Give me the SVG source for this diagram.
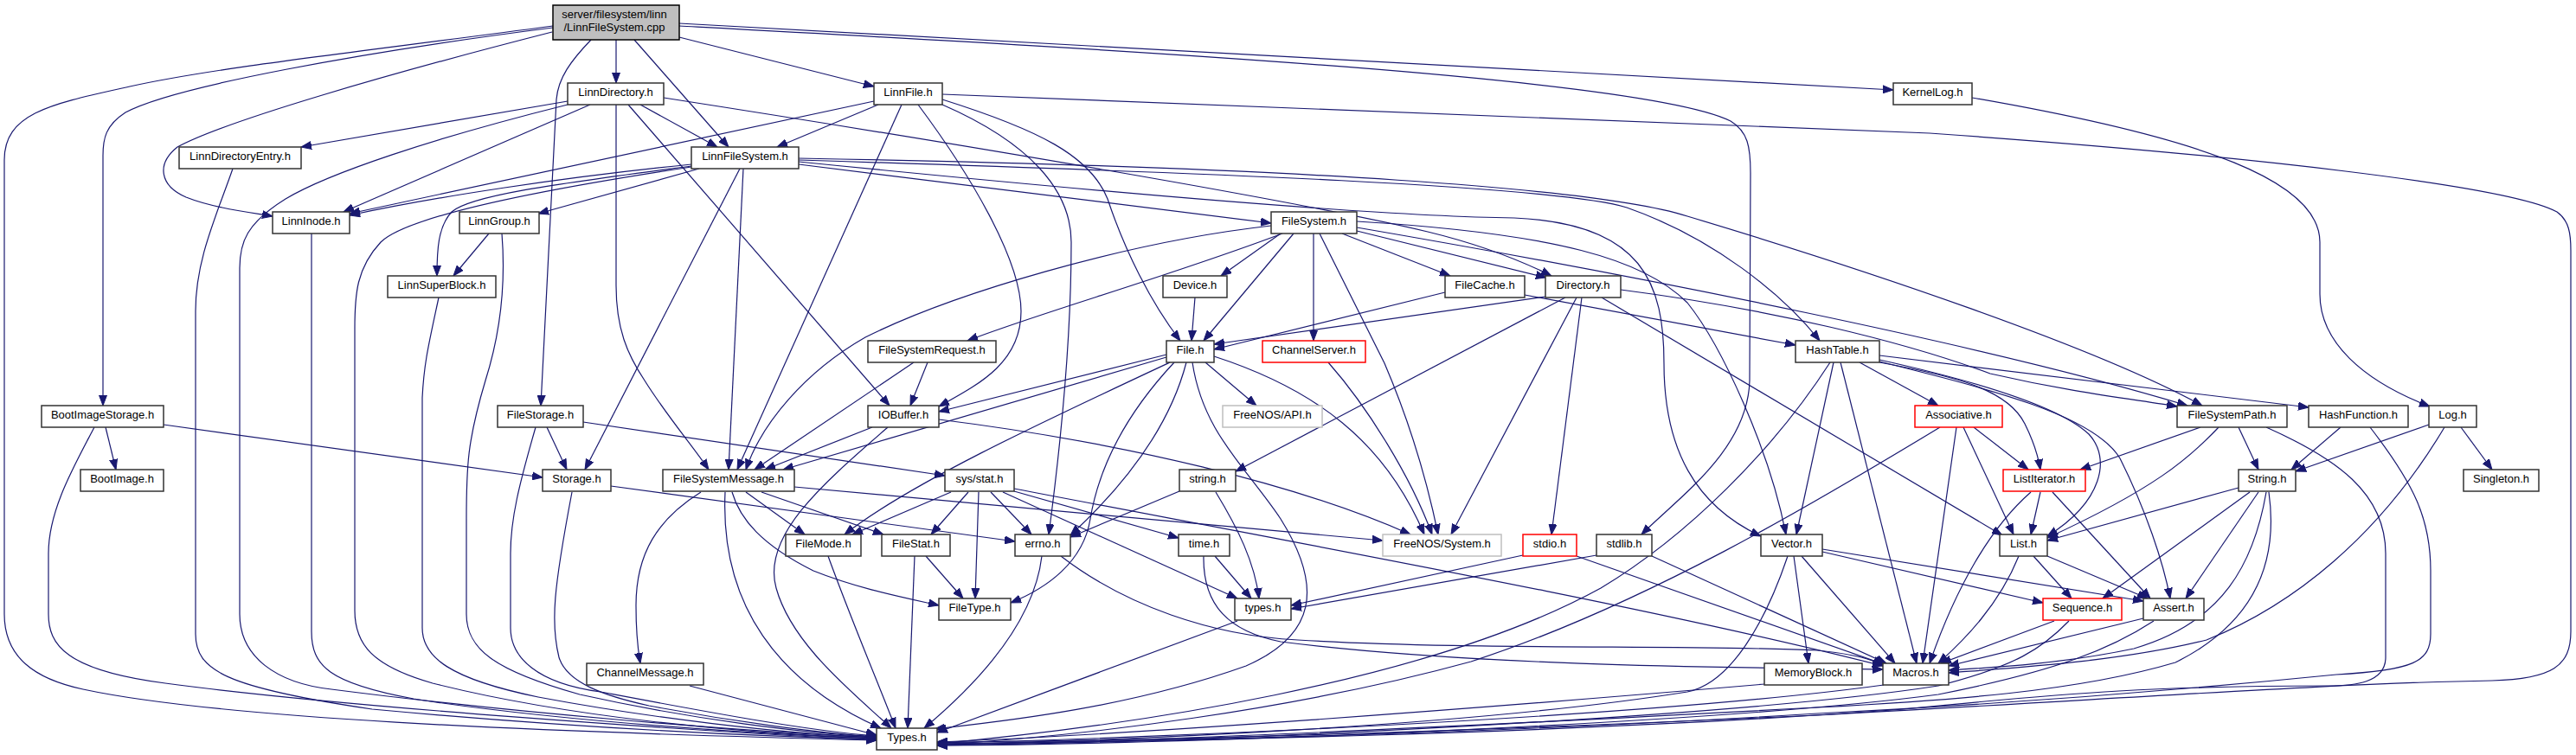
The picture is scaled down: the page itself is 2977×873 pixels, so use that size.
<svg xmlns="http://www.w3.org/2000/svg" width="2977" height="873" viewBox="0 0 2977 873">
<style>
.node rect{fill:#fff;stroke:#333;stroke-width:1.5}
.node.root rect{fill:#bfbfbf;stroke:#000}
.node.red rect{stroke:#ff0000}
.node.gray rect{stroke:#bfbfbf}
.node text{font-family:"Liberation Sans",Arial,sans-serif;font-size:13px;text-anchor:middle;fill:#000}
#edges path{fill:none;stroke:#191970;stroke-width:1.2;marker-end:url(#arr)}
</style>
<defs>
<marker id="arr" markerUnits="userSpaceOnUse" markerWidth="14" markerHeight="10" refX="12" refY="5" orient="auto">
<path d="M0,0.5 L12,5 L0,9.5 z" fill="#191970" stroke="#191970" stroke-width="1"/>
</marker>
</defs>
<rect x="0" y="0" width="2977" height="873" fill="#fff"/>
<g id="edges">
<path d="M712,46 L712,96"/>
<path d="M733,46 L842,170"/>
<path d="M785,43 L1010,100"/>
<path d="M785,27 L2188,104"/>
<path d="M785,30 C1300,58 1900,90 2000,140 C2020,152 2023,170 2023,200 L2022,440 C2020,520 1940,575 1897,618"/>
<path d="M639,30 C400,62 250,78 150,100 C60,120 5,130 5,185 L5,710 C5,760 40,785 96,797 C250,830 600,846 1013,856"/>
<path d="M639,32 C420,60 200,100 145,130 C122,145 119,160 119,180 L119,469"/>
<path d="M638,37 C450,85 260,140 205,170 C180,190 185,215 215,228 C245,240 285,245 315,250"/>
<path d="M683,46 C660,70 645,90 643,115 L625,469"/>
<path d="M656,117 L348,170"/>
<path d="M656,121 C500,160 380,200 330,230 C285,258 277,280 277,310 L277,710 C277,760 320,790 383,797 C600,825 850,845 1013,853"/>
<path d="M682,121 L397,245"/>
<path d="M712,121 L712,330 C712,380 725,410 745,440 C770,480 800,515 819,543"/>
<path d="M726,121 L1028,469"/>
<path d="M740,121 L829,170"/>
<path d="M767,113 C1100,165 1500,232 1650,268 C1720,285 1765,305 1793,319"/>
<path d="M1015,121 L898,170"/>
<path d="M1010,117 L404,247"/>
<path d="M1042,121 L852,543"/>
<path d="M1061,121 C1120,200 1180,300 1180,360 C1180,420 1130,445 1085,470"/>
<path d="M1089,121 C1190,165 1238,220 1238,280 C1238,400 1225,520 1212,618"/>
<path d="M1089,115 C1200,150 1260,180 1280,230 C1300,290 1330,350 1364,394"/>
<path d="M1089,109 L2230,154 C2600,180 2900,215 2955,245 C2969,255 2971,270 2971,290 L2971,730 C2971,770 2950,785 2880,787 C2700,790 2500,805 2100,827 C1600,850 1300,857 1083,858"/>
<path d="M2279,113 C2550,160 2681,210 2681,280 L2681,340 C2681,395 2730,440 2808,470"/>
<path d="M799,190 C650,205 500,228 404,249"/>
<path d="M808,195 L622,247"/>
<path d="M799,192 C650,212 545,225 522,245 C506,262 505,290 505,319"/>
<path d="M799,193 C620,220 470,250 440,280 C412,310 410,340 410,380 L410,706 C410,745 430,770 500,790 C650,828 850,848 1013,854"/>
<path d="M855,195 L676,543"/>
<path d="M859,195 L842,543"/>
<path d="M923,190 L1469,258"/>
<path d="M923,185 C1400,200 1800,215 1880,240 C1980,275 2060,340 2103,394"/>
<path d="M923,183 C1500,193 1850,218 1950,250 C2150,310 2420,400 2545,469"/>
<path d="M923,187 C1300,225 1600,250 1750,252 C1900,258 1923,330 1923,420 C1923,520 1960,585 2035,620"/>
<path d="M1480,270 L1411,319"/>
<path d="M1495,270 L1391,394"/>
<path d="M1482,270 C1350,320 1200,362 1118,394"/>
<path d="M1469,261 C1300,280 1100,340 1000,390 C930,430 880,490 862,543"/>
<path d="M1518,270 L1518,394"/>
<path d="M1525,270 L1600,420 C1630,490 1650,560 1662,618"/>
<path d="M1551,270 L1676,319"/>
<path d="M1568,267 L1787,321"/>
<path d="M1568,263 C1900,320 2300,400 2528,469"/>
<path d="M1568,256 C1800,270 1900,300 1950,350 C1990,400 2045,520 2064,618"/>
<path d="M1348,410 L1085,476"/>
<path d="M1348,413 L905,543"/>
<path d="M1352,419 C1200,490 1050,560 976,618"/>
<path d="M1357,419 C1300,480 1270,540 1260,600 C1252,650 1210,680 1168,697"/>
<path d="M1371,419 C1350,500 1290,570 1237,619"/>
<path d="M1393,419 L1452,469"/>
<path d="M1403,412 C1520,450 1600,510 1646,618"/>
<path d="M1378,419 C1390,500 1440,540 1480,600 C1530,680 1520,735 1440,770 C1300,820 1150,835 1080,843"/>
<path d="M1670,338 L1403,404"/>
<path d="M1762,341 L2075,399"/>
<path d="M1786,343 L1403,398"/>
<path d="M1809,344 L1428,545"/>
<path d="M1822,344 L1677,618"/>
<path d="M1828,344 L1793,618"/>
<path d="M1851,344 L2314,619"/>
<path d="M1873,335 C2050,358 2200,395 2300,432 C2400,455 2470,462 2516,470"/>
<path d="M1381,344 L1377,394"/>
<path d="M1535,419 C1580,470 1630,550 1655,618"/>
<path d="M1072,419 L1052,469"/>
<path d="M1056,419 L872,543"/>
<path d="M1008,494 L884,543"/>
<path d="M1026,494 C950,560 880,620 897,680 C915,745 985,800 1030,842"/>
<path d="M1085,485 C1300,512 1500,560 1630,618"/>
<path d="M862,569 L930,618"/>
<path d="M880,569 L1021,618"/>
<path d="M846,569 C855,600 880,630 940,660 C990,680 1040,690 1085,700"/>
<path d="M838,569 C832,700 900,790 1018,842"/>
<path d="M810,569 C760,600 735,640 735,700 C735,730 737,750 740,767"/>
<path d="M918,563 C1200,590 1450,610 1598,625"/>
<path d="M1099,569 L985,618"/>
<path d="M1119,569 L1076,618"/>
<path d="M1131,569 L1127,692"/>
<path d="M1145,569 L1192,618"/>
<path d="M1172,568 L1362,622"/>
<path d="M1159,569 L1430,692"/>
<path d="M1172,565 C1500,628 1900,700 2176,770"/>
<path d="M706,562 L1173,626"/>
<path d="M661,569 C640,680 636,720 646,760 C655,790 700,805 750,816 C850,835 950,848 1013,852"/>
<path d="M632,494 L655,543"/>
<path d="M674,488 L1092,550"/>
<path d="M619,494 C600,560 590,600 590,640 L590,726 C590,760 620,790 694,800 C800,820 930,845 1013,851"/>
<path d="M122,494 L134,543"/>
<path d="M189,491 L627,552"/>
<path d="M109,494 C85,540 56,590 56,640 L56,710 C56,745 75,775 191,790 C400,818 800,845 1013,856"/>
<path d="M269,195 C250,250 226,300 226,360 L226,733 C226,775 260,795 430,820 C700,845 900,852 1013,855"/>
<path d="M360,270 L360,730 C360,770 380,790 478,808 C650,835 900,850 1013,854"/>
<path d="M507,344 C495,400 490,420 488,460 L488,726 C488,760 520,785 622,806 C750,830 900,848 1013,853"/>
<path d="M565,270 L524,319"/>
<path d="M580,270 C584,320 580,380 561,440 C540,510 539,540 539,600 L539,710 C539,750 570,775 670,803 C800,832 930,848 1013,852"/>
<path d="M797,793 L1013,850"/>
<path d="M957,643 C985,720 1015,790 1035,842"/>
<path d="M1057,643 L1049,842"/>
<path d="M1070,643 L1113,692"/>
<path d="M1204,643 C1195,720 1130,790 1068,842"/>
<path d="M1226,643 C1300,700 1400,735 1500,740 C1700,752 1950,745 2100,752 C2140,756 2165,762 2176,770"/>
<path d="M1363,568 L1237,621"/>
<path d="M1405,569 C1430,610 1450,650 1455,692"/>
<path d="M1404,643 L1446,692"/>
<path d="M1391,643 C1390,700 1420,730 1480,742 C1700,770 2000,772 2176,774"/>
<path d="M1430,718 L1083,847"/>
<path d="M1760,642 L1492,700"/>
<path d="M1822,643 L2177,768"/>
<path d="M1845,642 L1492,704"/>
<path d="M1909,643 L2180,767"/>
<path d="M2149,419 L2240,469"/>
<path d="M2119,419 L2076,618"/>
<path d="M2127,419 L2215,767"/>
<path d="M2115,419 C2050,520 1950,620 1850,680 C1650,790 1300,840 1083,860"/>
<path d="M2172,419 C2260,435 2320,450 2340,490 C2350,510 2355,525 2358,543"/>
<path d="M2172,416 C2280,440 2380,470 2414,502 C2440,530 2430,580 2366,620"/>
<path d="M2172,418 C2300,450 2420,480 2450,530 C2480,590 2500,650 2508,692"/>
<path d="M2172,411 L2668,471"/>
<path d="M2281,494 L2344,543"/>
<path d="M2269,494 L2327,618"/>
<path d="M2261,494 L2222,767"/>
<path d="M2242,494 C2100,580 1900,700 1700,765 C1500,820 1250,852 1083,861"/>
<path d="M2358,569 L2347,618"/>
<path d="M2372,569 L2485,692"/>
<path d="M2347,569 C2300,610 2260,680 2230,767"/>
<path d="M2350,643 L2394,692"/>
<path d="M2366,643 L2482,692"/>
<path d="M2333,643 C2310,700 2270,740 2240,767"/>
<path d="M2106,638 L2361,697"/>
<path d="M2106,635 L2477,695"/>
<path d="M2073,643 L2090,767"/>
<path d="M2082,643 L2190,767"/>
<path d="M2066,643 C2040,720 2000,790 1950,800 C1700,840 1300,856 1083,861"/>
<path d="M2374,718 L2243,767"/>
<path d="M2391,718 C2360,750 2330,770 2240,793 C2000,830 1400,858 1083,862"/>
<path d="M2477,715 L2252,770"/>
<path d="M2489,718 C2440,750 2380,775 2240,803 C2000,835 1400,860 1083,862"/>
<path d="M2040,791 C1700,820 1300,850 1083,858"/>
<path d="M2177,792 C1900,830 1300,855 1083,859"/>
<path d="M2543,494 L2404,543"/>
<path d="M2564,494 C2530,530 2490,565 2366,622"/>
<path d="M2587,494 L2610,543"/>
<path d="M2619,494 C2700,530 2757,570 2757,640 L2757,760 C2757,790 2720,793 2690,793 C2500,793 2400,800 2200,820 C1800,850 1300,858 1083,860"/>
<path d="M2705,494 L2648,543"/>
<path d="M2739,494 C2790,560 2809,600 2809,660 L2809,733 C2809,765 2790,775 2700,780 C2500,800 2300,815 2100,825 C1700,850 1300,858 1083,860"/>
<path d="M2844,494 L2880,543"/>
<path d="M2807,491 L2653,545"/>
<path d="M2825,494 C2750,620 2650,700 2550,740 C2450,765 2330,772 2252,778"/>
<path d="M2587,564 L2366,625"/>
<path d="M2600,569 L2430,692"/>
<path d="M2610,569 L2526,692"/>
<path d="M2619,569 C2605,650 2570,720 2466,750 C2380,768 2300,772 2252,775"/>
<path d="M2622,569 C2632,640 2615,716 2514,766 C2400,800 2250,810 2100,818 C1600,845 1300,858 1083,861"/>
</g>
<g id="n_root" class="node root"><rect x="639" y="6" width="146" height="40"/><text x="710" y="21">server/filesystem/linn</text><text x="710" y="36">/LinnFileSystem.cpp</text></g>
<g id="n_LinnDirectory" class="node"><rect x="656" y="96" width="111" height="25"/><text x="711.5" y="111">LinnDirectory.h</text></g>
<g id="n_LinnFile" class="node"><rect x="1010" y="96" width="79" height="25"/><text x="1049.5" y="111">LinnFile.h</text></g>
<g id="n_KernelLog" class="node"><rect x="2188" y="96" width="91" height="25"/><text x="2233.5" y="111">KernelLog.h</text></g>
<g id="n_LinnDirectoryEntry" class="node"><rect x="207" y="170" width="141" height="25"/><text x="277.5" y="185">LinnDirectoryEntry.h</text></g>
<g id="n_LinnFileSystem" class="node"><rect x="799" y="170" width="124" height="25"/><text x="861" y="185">LinnFileSystem.h</text></g>
<g id="n_LinnInode" class="node"><rect x="315" y="245" width="89" height="25"/><text x="359.5" y="260">LinnInode.h</text></g>
<g id="n_LinnGroup" class="node"><rect x="531" y="245" width="92" height="25"/><text x="577" y="260">LinnGroup.h</text></g>
<g id="n_FileSystem" class="node"><rect x="1469" y="245" width="99" height="25"/><text x="1518.5" y="260">FileSystem.h</text></g>
<g id="n_LinnSuperBlock" class="node"><rect x="448" y="319" width="125" height="25"/><text x="510.5" y="334">LinnSuperBlock.h</text></g>
<g id="n_Device" class="node"><rect x="1344" y="319" width="74" height="25"/><text x="1381" y="334">Device.h</text></g>
<g id="n_FileCache" class="node"><rect x="1670" y="319" width="92" height="25"/><text x="1716" y="334">FileCache.h</text></g>
<g id="n_Directory" class="node"><rect x="1786" y="319" width="87" height="25"/><text x="1829.5" y="334">Directory.h</text></g>
<g id="n_FileSystemRequest" class="node"><rect x="1003" y="394" width="148" height="25"/><text x="1077" y="409">FileSystemRequest.h</text></g>
<g id="n_File" class="node"><rect x="1348" y="394" width="55" height="25"/><text x="1375.5" y="409">File.h</text></g>
<g id="n_ChannelServer" class="node red"><rect x="1459" y="394" width="119" height="25"/><text x="1518.5" y="409">ChannelServer.h</text></g>
<g id="n_HashTable" class="node"><rect x="2075" y="394" width="97" height="25"/><text x="2123.5" y="409">HashTable.h</text></g>
<g id="n_BootImageStorage" class="node"><rect x="48" y="469" width="141" height="25"/><text x="118.5" y="484">BootImageStorage.h</text></g>
<g id="n_FileStorage" class="node"><rect x="575" y="469" width="99" height="25"/><text x="624.5" y="484">FileStorage.h</text></g>
<g id="n_IOBuffer" class="node"><rect x="1003" y="469" width="82" height="25"/><text x="1044" y="484">IOBuffer.h</text></g>
<g id="n_FreeNOS_API" class="node gray"><rect x="1413" y="469" width="115" height="25"/><text x="1470.5" y="484">FreeNOS/API.h</text></g>
<g id="n_Associative" class="node red"><rect x="2213" y="469" width="101" height="25"/><text x="2263.5" y="484">Associative.h</text></g>
<g id="n_FileSystemPath" class="node"><rect x="2516" y="469" width="127" height="25"/><text x="2579.5" y="484">FileSystemPath.h</text></g>
<g id="n_HashFunction" class="node"><rect x="2668" y="469" width="115" height="25"/><text x="2725.5" y="484">HashFunction.h</text></g>
<g id="n_Log" class="node"><rect x="2807" y="469" width="55" height="25"/><text x="2834.5" y="484">Log.h</text></g>
<g id="n_BootImage" class="node"><rect x="93" y="543" width="96" height="25"/><text x="141" y="558">BootImage.h</text></g>
<g id="n_Storage" class="node"><rect x="627" y="543" width="79" height="25"/><text x="666.5" y="558">Storage.h</text></g>
<g id="n_FileSystemMessage" class="node"><rect x="766" y="543" width="152" height="25"/><text x="842" y="558">FileSystemMessage.h</text></g>
<g id="n_sys_stat" class="node"><rect x="1092" y="543" width="80" height="25"/><text x="1132" y="558">sys/stat.h</text></g>
<g id="n_string" class="node"><rect x="1363" y="543" width="65" height="25"/><text x="1395.5" y="558">string.h</text></g>
<g id="n_ListIterator" class="node red"><rect x="2315" y="543" width="95" height="25"/><text x="2362.5" y="558">ListIterator.h</text></g>
<g id="n_String" class="node"><rect x="2587" y="543" width="66" height="25"/><text x="2620" y="558">String.h</text></g>
<g id="n_Singleton" class="node"><rect x="2847" y="543" width="87" height="25"/><text x="2890.5" y="558">Singleton.h</text></g>
<g id="n_FileMode" class="node"><rect x="908" y="618" width="87" height="25"/><text x="951.5" y="633">FileMode.h</text></g>
<g id="n_FileStat" class="node"><rect x="1019" y="618" width="79" height="25"/><text x="1058.5" y="633">FileStat.h</text></g>
<g id="n_errno" class="node"><rect x="1173" y="618" width="64" height="25"/><text x="1205" y="633">errno.h</text></g>
<g id="n_time" class="node"><rect x="1362" y="618" width="59" height="25"/><text x="1391.5" y="633">time.h</text></g>
<g id="n_FreeNOS_System" class="node gray"><rect x="1598" y="618" width="137" height="25"/><text x="1666.5" y="633">FreeNOS/System.h</text></g>
<g id="n_stdio" class="node red"><rect x="1760" y="618" width="62" height="25"/><text x="1791" y="633">stdio.h</text></g>
<g id="n_stdlib" class="node"><rect x="1845" y="618" width="64" height="25"/><text x="1877" y="633">stdlib.h</text></g>
<g id="n_Vector" class="node"><rect x="2035" y="618" width="71" height="25"/><text x="2070.5" y="633">Vector.h</text></g>
<g id="n_List" class="node"><rect x="2311" y="618" width="55" height="25"/><text x="2338.5" y="633">List.h</text></g>
<g id="n_FileType" class="node"><rect x="1085" y="692" width="83" height="25"/><text x="1126.5" y="707">FileType.h</text></g>
<g id="n_types" class="node"><rect x="1427" y="692" width="65" height="25"/><text x="1459.5" y="707">types.h</text></g>
<g id="n_Sequence" class="node red"><rect x="2361" y="692" width="91" height="25"/><text x="2406.5" y="707">Sequence.h</text></g>
<g id="n_Assert" class="node"><rect x="2477" y="692" width="70" height="25"/><text x="2512" y="707">Assert.h</text></g>
<g id="n_ChannelMessage" class="node"><rect x="678" y="767" width="135" height="25"/><text x="745.5" y="782">ChannelMessage.h</text></g>
<g id="n_MemoryBlock" class="node"><rect x="2039" y="767" width="113" height="25"/><text x="2095.5" y="782">MemoryBlock.h</text></g>
<g id="n_Macros" class="node"><rect x="2176" y="767" width="76" height="25"/><text x="2214" y="782">Macros.h</text></g>
<g id="n_Types" class="node"><rect x="1013" y="842" width="70" height="25"/><text x="1048" y="857">Types.h</text></g>
</svg>
